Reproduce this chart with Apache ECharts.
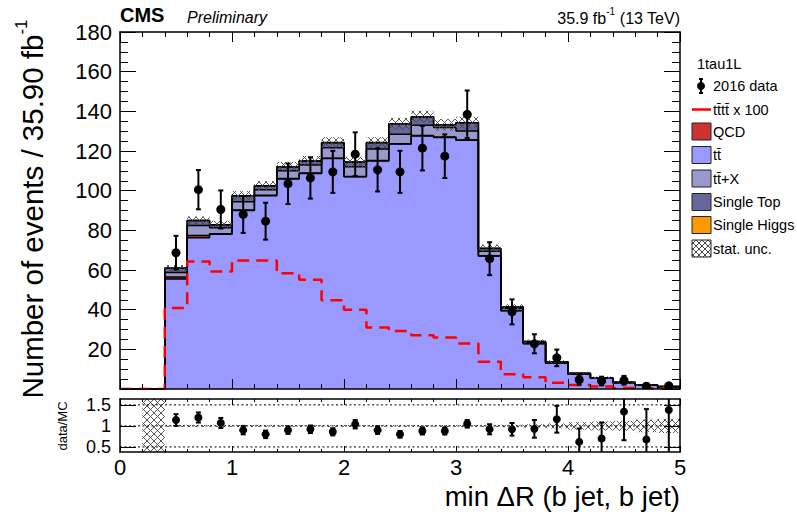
<!DOCTYPE html>
<html><head><meta charset="utf-8">
<script src="https://cdn.jsdelivr.net/npm/echarts@6/dist/echarts.min.js"></script>
<style>html,body{margin:0;padding:0;background:#fff}#c{width:797px;height:512px}</style>
</head><body><div id="c"></div>
<script>
// ---- data ----
const binEdges = [0,0.2,0.4,0.6,0.8,1.0,1.2,1.4,1.6,1.8,2.0,2.2,2.4,2.6,2.8,3.0,3.2,3.4,3.6,3.8,4.0,4.2,4.4,4.6,4.8,5.0];
const ttbar      = [0,0,55.5,76.2,78.0,90.0,97.5,105.9,108.7,116.2,107.0,115.0,123.5,127.6,126.8,125.4,67.0,39.5,22.8,13.0,7.5,5.4,3.2,1.9,1.1];
const qcd        = [0,0,1.0,1.2,0.3,0.2,0.2,0.2,0.2,0.2,0.2,0.2,0.2,0.2,0.2,0.2,0.1,0.1,0.1,0,0,0,0,0,0];
const ttX        = [0,0,2.3,5.0,3.0,4.2,2.8,3.9,4.1,5.3,4.8,5.8,4.8,5.2,4.8,4.5,2.4,1.1,0.7,0.5,0.3,0.2,0.1,0.1,0.1];
const singleTop  = [0,0,2.1,2.5,1.4,3.0,1.9,1.9,1.9,2.5,2.4,3.2,5.2,4.2,1.3,4.1,1.4,0.6,0.3,0.2,0.1,0.1,0.1,0,0];
const singleHiggs= [0,0,0.1,0.1,0.1,0.1,0.1,0.1,0.1,0.1,0.1,0.1,0.1,0.1,0.1,0.1,0.1,0.1,0.1,0,0,0,0,0,0];
const statUnc    = [0,0,1.5,2.0,2.0,2.3,2.3,2.5,2.5,2.7,2.6,2.7,2.9,3.0,2.9,3.0,1.8,1.3,1.0,0.8,0.7,0.6,0.4,0.3,0.2];
const tttt100    = [0,0,40.9,64.3,59.2,64.8,64.8,58.4,55.1,44.7,40.0,31.0,29.3,27.1,26.0,23.0,13.8,7.5,5.9,3.2,2.0,1.3,0.5,0.3,0.2];
const dataVals   = [null,null,68.7,100.5,90.5,88.0,84.6,103.5,106.4,109.5,118.4,110.5,109.5,121.4,117.4,138.5,65.7,38.9,22.8,15.7,4.7,4.0,4.4,1.4,1.6];
const dataErrs   = [null,null,8.5,9.9,9.6,9.3,9.3,10.2,10.4,10.6,11.0,10.9,10.6,11.2,11.0,12.0,8.3,6.3,4.8,4.2,2.5,2.2,2.2,1.3,1.4];
const ratioVals  = [null,null,1.14,1.20,1.07,0.90,0.80,0.90,0.92,0.86,1.04,0.90,0.80,0.88,0.88,1.05,0.92,0.92,0.93,1.16,0.62,0.70,1.34,0.68,1.38];
const ratioErrs  = [null,null,0.14,0.12,0.12,0.10,0.09,0.09,0.09,0.085,0.10,0.09,0.08,0.085,0.085,0.09,0.12,0.15,0.21,0.32,0.32,0.38,0.68,0.72,1.2];
const ratioBand  = [0,5,0.025,0.024,0.024,0.024,0.022,0.022,0.022,0.022,0.023,0.022,0.022,0.022,0.022,0.022,0.025,0.03,0.04,0.06,0.09,0.11,0.12,0.15,0.17];
const ratioLines = [0.5,1.0,1.5];
const ratioTicks = [0.5,1.0,1.5];

// ---- helpers ----
const FONT = '"Liberation Sans", Arial, Helvetica, sans-serif';
function hatch(size, color, lw){
  const c = document.createElement('canvas'); c.width = size; c.height = size;
  const g = c.getContext('2d'); g.strokeStyle = color; g.lineWidth = lw;
  g.beginPath(); g.moveTo(0,0); g.lineTo(size,size); g.moveTo(size,0); g.lineTo(0,size); g.stroke();
  return {image: c, repeat: 'repeat'};
}
const hatchMain = hatch(7, '#444', 0.9);
const hatchLeg = hatch(6, '#333', 0.9);
const nb = binEdges.length - 1;
const cum = (arrs) => arrs[0].map((_, i) => arrs.reduce((s, a) => s + a[i], 0));
const c1 = ttbar;
const c2 = cum([ttbar, qcd]);
const c3 = cum([ttbar, qcd, ttX]);
const c4 = cum([ttbar, qcd, ttX, singleTop]);
const c5 = cum([ttbar, qcd, ttX, singleTop, singleHiggs]);
const stepData = (arr) => binEdges.map((e, i) => [e, arr[Math.min(i, nb - 1)]]);

function areaSeries(arr, color){
  return {type:'line', xAxisIndex:0, yAxisIndex:0, step:'end', symbol:'none', silent:true, animation:false,
    data: stepData(arr), lineStyle:{color:'#000', width:1.5}, areaStyle:{color: color, opacity:1}, z:2};
}
function errBarItem(api, r){
  const x = api.value(0), y = api.value(1), e = api.value(2);
  const p = api.coord([x, y]), t = api.coord([x, y + e]), b = api.coord([x, y - e]);
  const st = {stroke:'#000', lineWidth:2};
  return {type:'group', children:[
    {type:'line', shape:{x1:t[0], y1:t[1], x2:b[0], y2:b[1]}, style:st},
    {type:'line', shape:{x1:t[0]-2.5, y1:t[1], x2:t[0]+2.5, y2:t[1]}, style:st},
    {type:'line', shape:{x1:b[0]-2.5, y1:b[1], x2:b[0]+2.5, y2:b[1]}, style:st},
    {type:'circle', shape:{cx:p[0], cy:p[1], r:r}, style:{fill:'#000'}}
  ]};
}
const centers = binEdges.slice(0, -1).map((e, i) => (e + binEdges[i + 1]) / 2);
const pts = (vals, errs) => centers.map((c, i) => [c, vals[i], errs[i]]).filter(d => d[1] != null);

const axisBase = {type:'value', min:0, max:5, interval:1, splitLine:{show:false},
  axisLine:{show:true, onZero:false, lineStyle:{color:'#000', width:1.5}}, z:10};

const option = {
  animation:false,
  grid:[
    {left:120, top:32, width:560, height:357},
    {left:120, top:399, width:560, height:53}
  ],
  xAxis:[
    Object.assign({}, axisBase, {gridIndex:0, position:'bottom', axisLabel:{show:false},
      axisTick:{inside:true, length:10, lineStyle:{color:'#000', width:1}},
      minorTick:{show:true, splitNumber:5, length:5, lineStyle:{color:'#000', width:1}}}),
    Object.assign({}, axisBase, {gridIndex:0, position:'top', axisLabel:{show:false},
      axisTick:{inside:true, length:10, lineStyle:{color:'#000', width:1}},
      minorTick:{show:true, splitNumber:5, length:5, lineStyle:{color:'#000', width:1}}}),
    Object.assign({}, axisBase, {gridIndex:1, position:'bottom',
      axisLabel:{show:true, fontSize:22, fontFamily:FONT, color:'#000', margin:4},
      axisTick:{inside:true, length:6, lineStyle:{color:'#000', width:1}},
      minorTick:{show:true, splitNumber:5, length:3, lineStyle:{color:'#000', width:1}}}),
    Object.assign({}, axisBase, {gridIndex:1, position:'top', axisLabel:{show:false},
      axisTick:{inside:true, length:6, lineStyle:{color:'#000', width:1}},
      minorTick:{show:true, splitNumber:5, length:3, lineStyle:{color:'#000', width:1}}})
  ],
  yAxis:[
    {type:'value', gridIndex:0, position:'left', min:0, max:180, interval:20, splitLine:{show:false}, z:10,
      axisLine:{show:true, onZero:false, lineStyle:{color:'#000', width:1.5}},
      axisTick:{inside:true, length:16, lineStyle:{color:'#000', width:1}},
      minorTick:{show:true, splitNumber:4, length:8, lineStyle:{color:'#000', width:1}},
      axisLabel:{fontSize:22, fontFamily:FONT, color:'#000', margin:8, formatter:v => v === 0 ? '' : String(v)}},
    {type:'value', gridIndex:0, position:'right', min:0, max:180, interval:20, splitLine:{show:false}, z:10,
      axisLine:{show:true, onZero:false, lineStyle:{color:'#000', width:1.5}},
      axisTick:{inside:true, length:16, lineStyle:{color:'#000', width:1}},
      minorTick:{show:true, splitNumber:4, length:8, lineStyle:{color:'#000', width:1}},
      axisLabel:{show:false}},
    {type:'value', gridIndex:1, position:'left', min:0.38, max:1.64, splitLine:{show:false}, z:10,
      axisLine:{show:true, onZero:false, lineStyle:{color:'#000', width:1.5}},
      axisTick:{inside:true, length:16, customValues:ratioTicks, lineStyle:{color:'#000', width:1}},
      axisLabel:{fontSize:18, fontFamily:FONT, color:'#000', margin:9, customValues:ratioTicks,
        formatter:v => String(Math.round(v * 10) / 10)}},
    {type:'value', gridIndex:1, position:'right', min:0.38, max:1.64, splitLine:{show:false}, z:10,
      axisLine:{show:true, onZero:false, lineStyle:{color:'#000', width:1.5}},
      axisTick:{inside:true, length:16, customValues:ratioTicks, lineStyle:{color:'#000', width:1}},
      axisLabel:{show:false}}
  ],
  series:[
    areaSeries(c5, '#ff9900'),
    areaSeries(c4, '#666699'),
    areaSeries(c3, '#9999cc'),
    areaSeries(c2, '#cc3333'),
    areaSeries(c1, '#9999ff'),
    // stat. unc. hatch band
    {type:'custom', xAxisIndex:0, yAxisIndex:0, clip:true, silent:true, z:3,
      data: centers.map((c, i) => [binEdges[i], binEdges[i + 1], c5[i], statUnc[i]]).filter(d => d[3] > 0),
      encode:{x:[0,1], y:2},
      renderItem:(p, api) => {
        const a = api.coord([api.value(0), api.value(2) + api.value(3)]);
        const b = api.coord([api.value(1), api.value(2) - api.value(3)]);
        return {type:'rect', shape:{x:a[0], y:a[1], width:b[0]-a[0], height:b[1]-a[1]}, style:{fill:hatchMain}};
      }},
    // tttt x 100
    {type:'line', xAxisIndex:0, yAxisIndex:0, step:'end', symbol:'none', silent:true, z:4,
      data: stepData(tttt100), lineStyle:{color:'#ff0000', width:2.5, type:[12,7]}},
    // data points
    {type:'custom', xAxisIndex:0, yAxisIndex:0, clip:true, silent:true, z:5,
      data: pts(dataVals, dataErrs), encode:{x:0, y:1},
      renderItem:(p, api) => errBarItem(api, 4.5)},
    // ratio: dotted reference lines
    {type:'custom', xAxisIndex:2, yAxisIndex:2, silent:true, z:4,
      data: ratioLines.map(v => [v]), encode:{y:0},
      renderItem:(p, api) => {
        const a = api.coord([0, api.value(0)]), b = api.coord([5, api.value(0)]);
        return {type:'line', shape:{x1:a[0], y1:a[1], x2:b[0], y2:b[1]}, style:{stroke:'#000', lineWidth:1, lineDash:[2,2.5]}};
      }},
    // ratio: MC stat band
    {type:'custom', xAxisIndex:2, yAxisIndex:2, clip:true, silent:true, z:3,
      data: centers.map((c, i) => [binEdges[i], binEdges[i + 1], ratioBand[i]]).filter(d => d[2] > 0),
      encode:{x:[0,1]},
      renderItem:(p, api) => {
        const a = api.coord([api.value(0), 1 + api.value(2)]);
        const b = api.coord([api.value(1), 1 - api.value(2)]);
        return {type:'rect', shape:{x:a[0], y:a[1], width:b[0]-a[0], height:b[1]-a[1]}, style:{fill:hatchMain}};
      }},
    // ratio: data/MC points
    {type:'custom', xAxisIndex:2, yAxisIndex:2, clip:true, silent:true, z:5,
      data: pts(ratioVals, ratioErrs), encode:{x:0, y:1},
      renderItem:(p, api) => errBarItem(api, 4)}
  ],
  graphic:[
    {type:'text', x:120, y:25, style:{text:'CMS', font:'bold 20px ' + FONT, fill:'#000', textAlign:'left', textVerticalAlign:'bottom', align:'left', verticalAlign:'bottom'}},
    {type:'text', x:187, y:25, style:{text:'Preliminary', font:'italic 16px ' + FONT, fill:'#000', textAlign:'left', textVerticalAlign:'bottom', align:'left', verticalAlign:'bottom'}},
    {type:'text', x:680, y:26, style:{text:'{a|35.9 fb}{s|-1}{a| (13 TeV)}', fill:'#000', textAlign:'right', textVerticalAlign:'bottom', align:'right', verticalAlign:'bottom',
      rich:{a:{fontSize:16, fontFamily:FONT, lineHeight:20, verticalAlign:'bottom'}, s:{fontSize:10, fontFamily:FONT, lineHeight:12, verticalAlign:'top'}}}},
    {type:'text', x:30, y:209, rotation:Math.PI/2, style:{text:'{a|Number of events / 35.90 fb}{s|-1}', fill:'#000', textAlign:'center', textVerticalAlign:'middle', align:'center', verticalAlign:'middle',
      rich:{a:{fontSize:29.5, fontFamily:FONT, lineHeight:34, verticalAlign:'bottom'}, s:{fontSize:17, fontFamily:FONT, lineHeight:19, verticalAlign:'top'}}}},
    {type:'text', x:62, y:426, rotation:Math.PI/2, style:{text:'data/MC', font:'13px ' + FONT, fill:'#000', textAlign:'center', textVerticalAlign:'middle', align:'center', verticalAlign:'middle'}},
    {type:'text', x:680, y:496, style:{text:'min \u0394R (b jet, b jet)', font:'27.5px ' + FONT, fill:'#000', textAlign:'right', textVerticalAlign:'middle', align:'right', verticalAlign:'middle'}},
    // legend
    {type:'text', x:697, y:64, style:{text:'1tau1L', font:'14.5px ' + FONT, fill:'#000', textVerticalAlign:'middle', verticalAlign:'middle'}},
    {type:'line', shape:{x1:701, y1:79, x2:701, y2:93}, style:{stroke:'#000', lineWidth:2}},
    {type:'line', shape:{x1:699, y1:79, x2:703, y2:79}, style:{stroke:'#000', lineWidth:2}},
    {type:'line', shape:{x1:699, y1:93, x2:703, y2:93}, style:{stroke:'#000', lineWidth:2}},
    {type:'circle', shape:{cx:701, cy:86, r:4}, style:{fill:'#000'}},
    {type:'text', x:713, y:86, style:{text:'2016 data', font:'14.5px ' + FONT, fill:'#000', textVerticalAlign:'middle', verticalAlign:'middle'}},
    {type:'line', shape:{x1:692, y1:109.5, x2:711, y2:109.5}, style:{stroke:'#ff0000', lineWidth:2.5}},
    {type:'text', x:713, y:109.5, style:{text:'tt\u0304tt\u0304 x 100', font:'14.5px ' + FONT, fill:'#000', textVerticalAlign:'middle', verticalAlign:'middle'}},
    {type:'rect', shape:{x:692, y:123, width:19, height:17}, style:{fill:'#cc3333', stroke:'#222', lineWidth:1}},
    {type:'text', x:713, y:131.5, style:{text:'QCD', font:'14.5px ' + FONT, fill:'#000', textVerticalAlign:'middle', verticalAlign:'middle'}},
    {type:'rect', shape:{x:692, y:146.5, width:19, height:17}, style:{fill:'#9999ff', stroke:'#222', lineWidth:1}},
    {type:'text', x:713, y:155, style:{text:'tt\u0304', font:'14.5px ' + FONT, fill:'#000', textVerticalAlign:'middle', verticalAlign:'middle'}},
    {type:'rect', shape:{x:692, y:170, width:19, height:17}, style:{fill:'#9999cc', stroke:'#222', lineWidth:1}},
    {type:'text', x:713, y:178.5, style:{text:'tt\u0304+X', font:'14.5px ' + FONT, fill:'#000', textVerticalAlign:'middle', verticalAlign:'middle'}},
    {type:'rect', shape:{x:692, y:193.5, width:19, height:17}, style:{fill:'#666699', stroke:'#222', lineWidth:1}},
    {type:'text', x:713, y:202, style:{text:'Single Top', font:'14.5px ' + FONT, fill:'#000', textVerticalAlign:'middle', verticalAlign:'middle'}},
    {type:'rect', shape:{x:692, y:216.5, width:19, height:17}, style:{fill:'#ff9900', stroke:'#222', lineWidth:1}},
    {type:'text', x:713, y:225, style:{text:'Single Higgs', font:'14.5px ' + FONT, fill:'#000', textVerticalAlign:'middle', verticalAlign:'middle'}},
    {type:'rect', shape:{x:692, y:240, width:19, height:17}, style:{fill:hatchLeg, stroke:'#222', lineWidth:1}},
    {type:'text', x:713, y:248.5, style:{text:'stat. unc.', font:'14.5px ' + FONT, fill:'#000', textVerticalAlign:'middle', verticalAlign:'middle'}}
  ]
};
const chart = echarts.init(document.getElementById('c'), null, {renderer:'svg'});
chart.setOption(option);
</script>
</body></html>
